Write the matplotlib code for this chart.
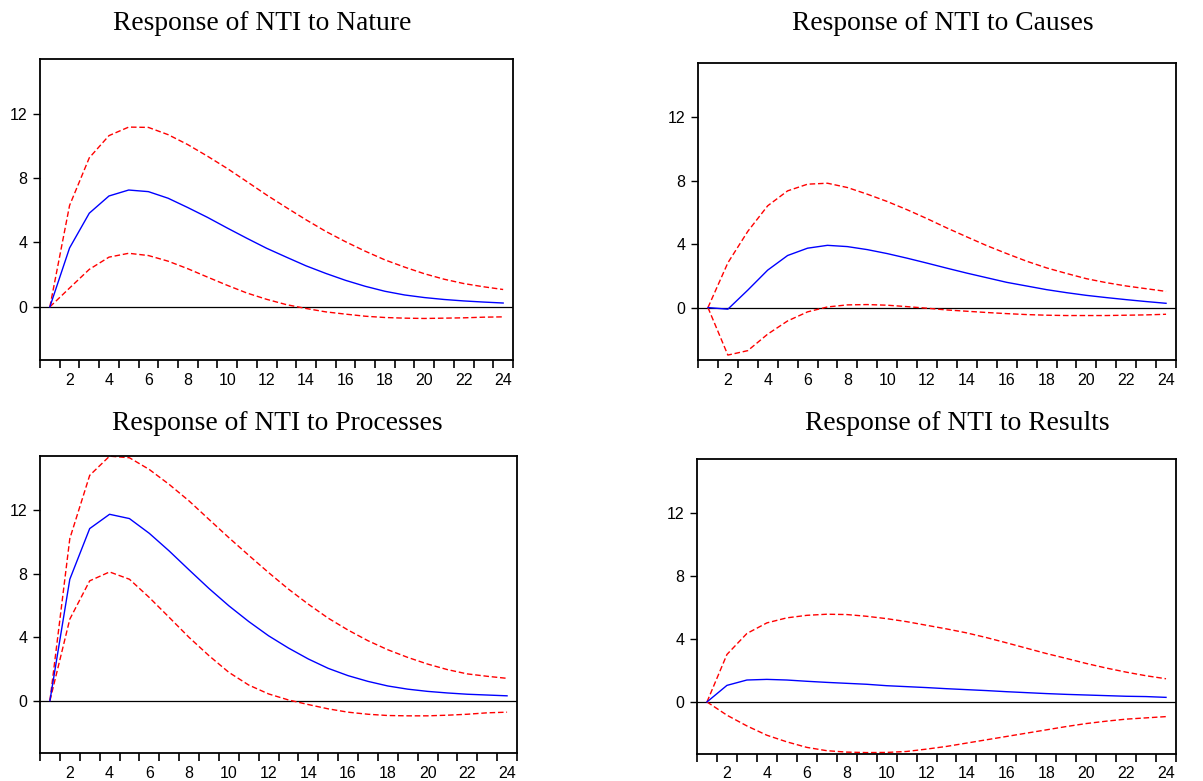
import matplotlib
matplotlib.use("Agg")
import matplotlib.pyplot as plt
from matplotlib.ticker import FixedLocator, NullFormatter

periods = list(range(1, 25))

titles = ["Response of NTI to Nature", "Response of NTI to Causes",
          "Response of NTI to Processes", "Response of NTI to Results"]

# Nature
nature = [0, 3.66, 5.82, 6.89, 7.26, 7.16, 6.75, 6.17, 5.56, 4.90, 4.26, 3.64,
          3.09, 2.55, 2.08, 1.65, 1.28, 0.97, 0.74, 0.58, 0.46, 0.37, 0.30, 0.24]
nature_hi = [0, 6.30, 9.26, 10.64, 11.17, 11.15, 10.70, 10.08, 9.36, 8.60, 7.78, 6.95,
             6.17, 5.41, 4.69, 4.05, 3.46, 2.92, 2.47, 2.06, 1.72, 1.45, 1.25, 1.08]
nature_lo = [0, 1.17, 2.33, 3.09, 3.33, 3.19, 2.84, 2.37, 1.85, 1.34, 0.86, 0.47,
             0.14, -0.10, -0.31, -0.45, -0.58, -0.66, -0.70, -0.72, -0.70, -0.68, -0.64, -0.62]

# Causes
causes = [0, -0.10, 1.10, 2.36, 3.28, 3.74, 3.92, 3.84, 3.65, 3.40, 3.11, 2.80,
          2.48, 2.17, 1.88, 1.59, 1.36, 1.13, 0.94, 0.77, 0.63, 0.50, 0.38, 0.27]
causes_hi = [0, 2.82, 4.80, 6.41, 7.35, 7.77, 7.83, 7.56, 7.14, 6.68, 6.16, 5.60,
             5.01, 4.45, 3.90, 3.40, 2.92, 2.50, 2.15, 1.82, 1.57, 1.36, 1.19, 1.02]
causes_lo = [0, -2.99, -2.71, -1.67, -0.84, -0.27, 0.04, 0.17, 0.19, 0.15, 0.06, -0.04,
             -0.15, -0.23, -0.31, -0.38, -0.44, -0.48, -0.50, -0.50, -0.50, -0.48, -0.46, -0.42]

# Processes
processes = [0, 7.64, 10.83, 11.73, 11.46, 10.53, 9.42, 8.23, 7.06, 5.97, 4.98, 4.08,
             3.31, 2.62, 2.03, 1.57, 1.21, 0.92, 0.72, 0.58, 0.48, 0.40, 0.35, 0.30]
processes_hi = [0, 10.20, 14.18, 15.39, 15.29, 14.55, 13.61, 12.57, 11.41, 10.26, 9.15, 8.06,
                7.02, 6.07, 5.19, 4.44, 3.77, 3.20, 2.72, 2.30, 1.95, 1.68, 1.53, 1.40]
processes_lo = [0, 5.13, 7.54, 8.10, 7.64, 6.49, 5.24, 3.98, 2.83, 1.78, 0.98, 0.42,
                0.04, -0.25, -0.52, -0.73, -0.86, -0.94, -0.96, -0.96, -0.92, -0.86, -0.77, -0.73]

# Results
results = [0, 1.05, 1.39, 1.43, 1.39, 1.31, 1.24, 1.18, 1.12, 1.03, 0.97, 0.91,
           0.84, 0.78, 0.72, 0.65, 0.59, 0.53, 0.48, 0.44, 0.40, 0.36, 0.34, 0.29]
results_hi = [0, 3.01, 4.34, 5.01, 5.33, 5.49, 5.56, 5.54, 5.43, 5.28, 5.09, 4.86,
              4.63, 4.38, 4.08, 3.75, 3.41, 3.07, 2.76, 2.44, 2.15, 1.89, 1.66, 1.47]
results_lo = [0, -0.84, -1.52, -2.11, -2.53, -2.88, -3.09, -3.18, -3.21, -3.20, -3.14, -2.99,
              -2.82, -2.61, -2.40, -2.19, -1.98, -1.77, -1.56, -1.37, -1.22, -1.09, -1.01, -0.93]

series = [(nature, nature_hi, nature_lo), (causes, causes_hi, causes_lo),
          (processes, processes_hi, processes_lo), (results, results_hi, results_lo)]

W, H = 1203, 781
# axes boxes in pixels: left, top, right, bottom
boxes = [(40, 59, 513, 360), (698, 63, 1176, 360),
         (40, 456, 517, 753), (697, 459, 1176, 754)]
title_pos = [(262, 23), (943, 23), (277, 424), (957, 424)]

fig = plt.figure(figsize=(W / 100, H / 100), dpi=100)

for i in range(4):
    l, t, r, b = boxes[i]
    ax = fig.add_axes([l / W, 1 - b / H, (r - l) / W, (b - t) / H])
    mid, hi, lo = series[i]
    ax.axhline(0, color="black", lw=0.9, zorder=1)
    ax.plot(periods, hi, color="red", lw=1.0, ls=(0, (4, 2)), zorder=2, clip_on=False)
    ax.plot(periods, lo, color="red", lw=1.0, ls=(0, (4, 2)), zorder=2, clip_on=False)
    ax.plot(periods, mid, color="blue", lw=1.0, zorder=3)
    ax.set_xlim(0.5, 24.5)
    ax.set_ylim(-3.3, 15.4)
    ax.set_yticks([0, 4, 8, 12])
    ax.xaxis.set_major_locator(FixedLocator([k + 0.5 for k in range(25)]))
    ax.xaxis.set_major_formatter(NullFormatter())
    ax.xaxis.set_minor_locator(FixedLocator(list(range(2, 25, 2))))
    ax.set_xticklabels([str(k) for k in range(2, 25, 2)], minor=True)
    ax.tick_params(axis="x", which="major", direction="out", length=6, width=1.2)
    ax.tick_params(axis="x", which="minor", length=0, pad=9, labelsize=11.5)
    ax.tick_params(axis="y", direction="out", length=5, width=1.0, pad=4, labelsize=11.5)
    for lab in ax.get_xticklabels(minor=True) + ax.get_yticklabels():
        lab.set_family("Liberation Sans")
    for s in ax.spines.values():
        s.set_linewidth(1.3)
    tx, ty = title_pos[i]
    fig.text(tx / W, 1 - ty / H, titles[i], ha="center", va="center",
             family="Liberation Serif", fontsize=19.8)

plt.savefig("out.png", dpi=100)
plt.close()
